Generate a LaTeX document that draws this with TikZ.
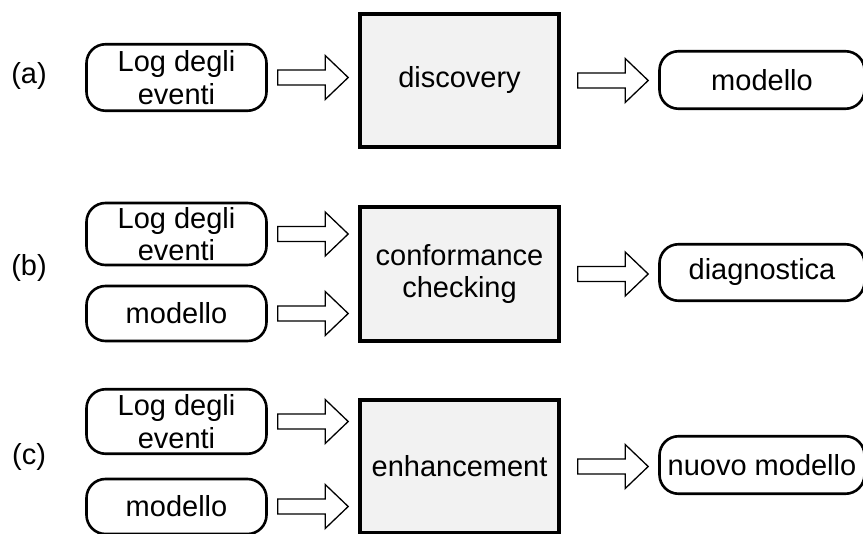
\documentclass[tikz,border=0pt]{standalone}
\usepackage{fontspec}
\setmainfont{Liberation Sans}
\usetikzlibrary{calc}
\definecolor{procfill}{RGB}{242,242,242}

\tikzset{
  txt/.style={font=\fontsize{29}{32.5}\selectfont, align=center, inner sep=0pt},
  databox/.style={txt, draw=black, line width=2.6pt, rounded corners=19pt,
                  fill=white, minimum width=180pt},
  procbox/.style={txt, draw=black, line width=3.6pt, fill=procfill,
                  minimum width=199pt, minimum height=133.5pt},
  rowlabel/.style={txt},
  fatarrow/.style={draw=black, line width=1.3pt, fill=white, line join=miter}
}

% Outlined block arrow from node #2 towards node #3 (at the height of #2)
\newcommand\fatarrow[3][10pt]{%
  \path ([xshift=#1]#2.east) coordinate (fa-s)
        (#2.east -| #3.west) coordinate (fa-m);
  \path ([xshift=-10pt]fa-m) coordinate (fa-t);
  \draw[fatarrow]
    ([yshift=7.5pt]fa-s) -- ([xshift=-23pt,yshift=7.5pt]fa-t)
    -- ([xshift=-23pt,yshift=22pt]fa-t) -- (fa-t)
    -- ([xshift=-23pt,yshift=-22pt]fa-t) -- ([xshift=-23pt,yshift=-7.5pt]fa-t)
    -- ([yshift=-7.5pt]fa-s) -- cycle;
}

\begin{document}
\begin{tikzpicture}[x=1pt,y=-1pt]
\useasboundingbox (0,0) rectangle (863,534);

% ---- (a) discovery
\node[rowlabel] (la) at (29,76) {(a)};
\node[databox, minimum height=66.5pt] (ina) at (176.5,77.5) {Log degli\\eventi};
\node[procbox] (pa) at (459.5,80.5) {discovery};
\node[databox, minimum height=57.5pt, minimum width=205pt] (oa) at (762,80) {modello};
\fatarrow{ina}{pa}
\fatarrow[17pt]{pa}{oa}

% ---- (b) conformance checking
\node[rowlabel] (lb) at (29,268) {(b)};
\node[databox, minimum height=62pt] (inb1) at (176.5,234) {Log degli\\eventi};
\node[databox, minimum height=55pt] (inb2) at (176.5,313.5) {modello};
\node[procbox] (pb) at (459.5,274) {conformance\\checking};
\node[databox, minimum height=56.5pt, minimum width=205pt] (ob) at (762,272.5) {diagnostica};
\fatarrow{inb1}{pb}
\fatarrow{inb2}{pb}
\fatarrow[17pt]{pb}{ob}

% ---- (c) enhancement
\node[rowlabel] (lc) at (29,457) {(c)};
\node[databox, minimum height=64.5pt] (inc1) at (176.5,421.5) {Log degli\\eventi};
\node[databox, minimum height=55pt] (inc2) at (176.5,506.5) {modello};
\node[procbox] (pc) at (459.5,466.5) {enhancement};
\node[databox, minimum height=57.5pt, minimum width=205pt] (oc) at (762,465) {nuovo modello};
\fatarrow{inc1}{pc}
\fatarrow{inc2}{pc}
\fatarrow[17pt]{pc}{oc}
\end{tikzpicture}
\end{document}
